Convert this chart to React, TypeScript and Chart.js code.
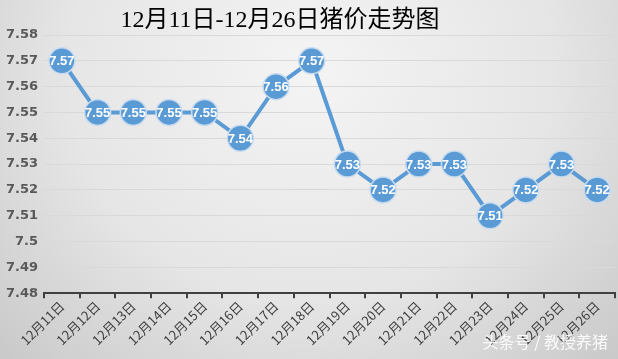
import React, { useEffect, useRef } from "react";
import { Chart, registerables } from "chart.js";

Chart.register(...registerables);

const categories = [
  "12月11日", "12月12日", "12月13日", "12月14日", "12月15日", "12月16日", "12月17日", "12月18日",
  "12月19日", "12月20日", "12月21日", "12月22日", "12月23日", "12月24日", "12月25日", "12月26日",
];
const prices = [7.57, 7.55, 7.55, 7.55, 7.55, 7.54, 7.56, 7.57, 7.53, 7.52, 7.53, 7.53, 7.51, 7.52, 7.53, 7.52];
const titleText = "12月11日-12月26日猪价走势图";
const watermark = "头条号 / 教授养猪";

const labelPlugin = {
  id: "pointLabels",
  afterDatasetsDraw(chart: any) {
    const ctx = chart.ctx;
    const meta = chart.getDatasetMeta(0);
    ctx.save();
    ctx.font = "bold 13px 'Liberation Sans', Arial, sans-serif";
    ctx.fillStyle = "#ffffff";
    ctx.textAlign = "center";
    ctx.textBaseline = "middle";
    meta.data.forEach((pt: any, i: number) => {
      ctx.fillText(prices[i].toFixed(2), pt.x, pt.y + 1);
    });
    ctx.restore();
  },
};

export default function App() {
  const ref = useRef<HTMLCanvasElement>(null);
  useEffect(() => {
    document.body.style.margin = "0";
    const chart = new Chart(ref.current!, {
      type: "line",
      data: {
        labels: categories,
        datasets: [
          {
            data: prices,
            borderColor: "#5b9bd5",
            borderWidth: 4,
            backgroundColor: "#5b9bd5",
            pointBackgroundColor: "#5b9bd5",
            pointBorderColor: "#c9dcef",
            pointBorderWidth: 1.5,
            pointRadius: 13,
            tension: 0,
            clip: false,
          },
        ],
      },
      options: {
        animation: false,
        responsive: false,
        layout: { autoPadding: false, padding: { left: 0, right: 3, top: 35, bottom: 11 } },
        plugins: {
          legend: { display: false },
          tooltip: { enabled: false },
          title: { display: false },
        },
        scales: {
          x: {
            offset: true,
            grid: { offset: true, drawOnChartArea: false, drawTicks: true, tickLength: 5, color: "#404040", lineWidth: 2 },
            border: { display: true, color: "#404040", width: 2 },
            ticks: {
              color: "#404040",
              font: { size: 13, family: "'Noto Sans CJK SC', sans-serif" },
              maxRotation: 45,
              minRotation: 45,
              autoSkip: false,
              padding: 0,
            },
          },
          y: {
            min: 7.48,
            max: 7.58,
            grid: { color: "#d9d9d9", drawTicks: false, lineWidth: 1 },
            border: { display: false },
            ticks: {
              stepSize: 0.01,
              color: "#595959",
              padding: 6,
              font: { size: 13, weight: "bold", family: "'DejaVu Sans', sans-serif" },
              callback: (v: any) => String(Number(Number(v).toFixed(2))),
            },
          },
        },
      },
      plugins: [labelPlugin],
    });
    return () => chart.destroy();
  }, []);
  return (
    <div
      style={{
        position: "fixed",
        left: 0,
        top: 0,
        width: 618,
        height: 359,
        background: "radial-gradient(ellipse at 50% 20%, #f4f4f4 0%, #e6e6e6 55%, #c9c9c9 100%)",
      }}
    >
      <canvas ref={ref} width={618} height={359} style={{ display: "block" }} />
      <div
        style={{
          position: "absolute",
          left: 0,
          width: 560,
          top: 4,
          textAlign: "center",
          color: "#000000",
          fontSize: 24,
          fontFamily: "'Liberation Serif', 'Noto Sans CJK SC', serif",
          whiteSpace: "nowrap",
          lineHeight: "30px",
        }}
      >
        {titleText}
      </div>
      <div
        style={{
          position: "absolute",
          right: 10,
          bottom: 6,
          color: "#ffffff",
          fontSize: 16,
          fontFamily: "'Noto Sans CJK SC', sans-serif",
          opacity: 0.9,
        }}
      >
        {watermark}
      </div>
    </div>
  );
}
